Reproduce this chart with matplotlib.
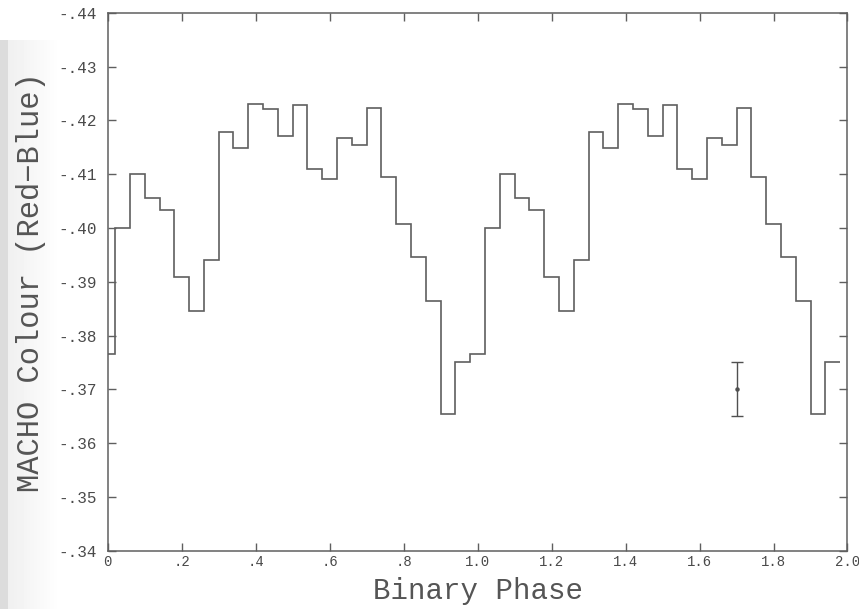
import numpy as np
import matplotlib
matplotlib.use("Agg")
import matplotlib.pyplot as plt

# Phase-binned mean colour for one cycle (25 bins, centres 0.00 ... 0.96)
bin_centres_one_cycle = [0.00, 0.04, 0.08, 0.12, 0.16, 0.20, 0.24, 0.28, 0.32, 0.36,
                         0.40, 0.44, 0.48, 0.52, 0.56, 0.60, 0.64, 0.68, 0.72, 0.76,
                         0.80, 0.84, 0.88, 0.92, 0.96]
colour_one_cycle = [-0.3766, -0.4000, -0.4101, -0.4056, -0.4033, -0.3909, -0.3846, -0.3940,
                    -0.4179, -0.4149, -0.4230, -0.4221, -0.4170, -0.4229, -0.4110, -0.4091,
                    -0.4168, -0.4154, -0.4223, -0.4095, -0.4008, -0.3946, -0.3864, -0.3654,
                    -0.3750]
bin_width = 0.04
n_cycles = 2

# Typical error bar
err_phase = 1.70
err_value = -0.370
err_size = 0.005

x_ticks = [0, 0.2, 0.4, 0.6, 0.8, 1.0, 1.2, 1.4, 1.6, 1.8, 2.0]
x_tick_labels = ["0", ".2", ".4", ".6", ".8", "1.0", "1.2", "1.4", "1.6", "1.8", "2.0"]
y_ticks = [-0.44, -0.43, -0.42, -0.41, -0.40, -0.39, -0.38, -0.37, -0.36, -0.35, -0.34]
y_tick_labels = ["-.44", "-.43", "-.42", "-.41", "-.40", "-.39", "-.38", "-.37", "-.36", "-.35", "-.34"]

x_label = "Binary Phase"
y_label = "MACHO Colour (Red\u2212Blue)"

# build two cycles
centres = np.concatenate([np.array(bin_centres_one_cycle) + k for k in range(n_cycles)])
values = np.tile(colour_one_cycle, n_cycles)
edges = np.append(centres - bin_width / 2, centres[-1] + bin_width / 2)

fig = plt.figure(figsize=(8.59, 6.09), dpi=100)

# slide-like background gradient at the far left
bg = fig.add_axes([0, 0, 1, 1], zorder=-10)
W, H = 859, 609
img = np.ones((H, W))
xs = np.arange(W)
grad = np.clip(1.0 - (1.0 - 0.93) * (1 - xs / 60.0), 0.93, 1.0)
grad[xs < 8] = 0.86
grad[xs >= 60] = 1.0
img[40:, :] = grad[None, :]
bg.imshow(img, cmap="gray", vmin=0, vmax=1, aspect="auto", interpolation="bilinear")
bg.axis("off")

ax = fig.add_axes([0.1254, 0.0957, 0.9866 - 0.1254, 0.9791 - 0.0957])
ax.patch.set_alpha(0)

line_col = "#5f5f5f"
ax.stairs(values, edges, baseline=None, color=line_col, linewidth=1.2)
ax.errorbar(err_phase, err_value, yerr=err_size, fmt="o", markersize=2.2,
            color="#505050", ecolor="#505050", elinewidth=1.0, capsize=4.5, capthick=1.0)

ax.set_xlim(0, 2.0)
ax.set_ylim(-0.34, -0.44)

ax.set_xticks(x_ticks)
ax.set_xticklabels(x_tick_labels)
ax.set_yticks(y_ticks)
ax.set_yticklabels(y_tick_labels)

mono = "Liberation Mono"
ax.tick_params(axis="both", direction="in", length=6, width=1.0, color=line_col,
               top=True, right=True, labelcolor="#4a4a4a")
ax.tick_params(axis="x", pad=3, labelsize=10)
ax.tick_params(axis="y", pad=8, labelsize=11.5)
for lab in ax.get_xticklabels() + ax.get_yticklabels():
    lab.set_family(mono)

for s in ax.spines.values():
    s.set_color(line_col)
    s.set_linewidth(1.1)

ax.set_xlabel(x_label, family=mono, fontsize=21, color="#555555", labelpad=6)
ax.set_ylabel(y_label, family=mono, fontsize=22, color="#555555")
ax.yaxis.set_label_coords(-0.0834, 0.5)

fig.savefig("out.png", dpi=100)
